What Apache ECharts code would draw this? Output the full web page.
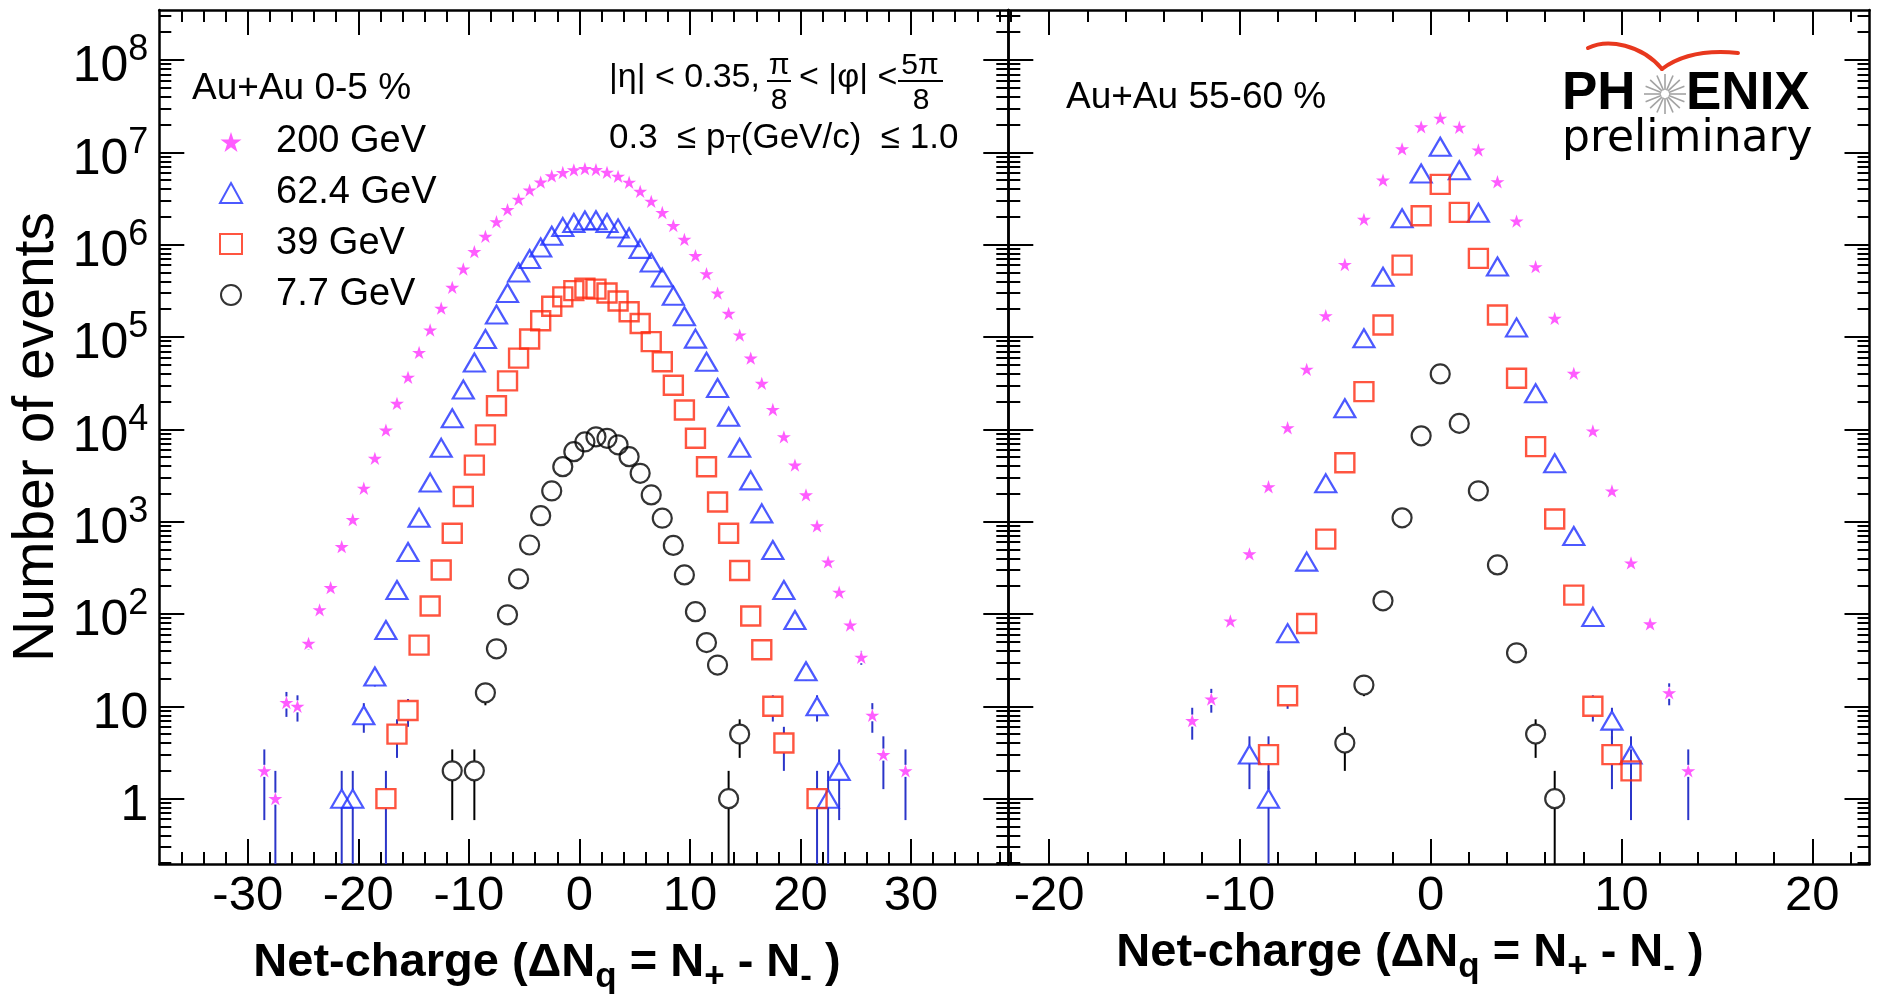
<!DOCTYPE html>
<html>
<head>
<meta charset="utf-8">
<title>Net-charge distributions, Au+Au</title>
<script src="https://cdn.jsdelivr.net/npm/echarts@6/dist/echarts.min.js"></script>
<style>
  html, body { margin: 0; padding: 0; background: #ffffff; overflow: hidden; }
  #chart { width: 1878px; height: 998px; }
</style>
</head>
<body>
<div id="chart"></div>
<script>
// ---- Net-charge histograms: bin centres and event counts ----

// Au+Au 0-5 % (left panel)
const binsCentral = [-28.5, -27.5, -26.5, -25.5, -24.5, -23.5, -22.5, -21.5, -20.5, -19.5,
  -18.5, -17.5, -16.5, -15.5, -14.5, -13.5, -12.5, -11.5, -10.5, -9.5,
  -8.5, -7.5, -6.5, -5.5, -4.5, -3.5, -2.5, -1.5, -0.5, 0.5,
  1.5, 2.5, 3.5, 4.5, 5.5, 6.5, 7.5, 8.5, 9.5, 10.5,
  11.5, 12.5, 13.5, 14.5, 15.5, 16.5, 17.5, 18.5, 19.5, 20.5,
  21.5, 22.5, 23.5, 24.5, 25.5, 26.5, 27.5, 28.5, 29.5];

const central200 = [2, 1, 11, 10, 48, 111, 193, 536, 1050, 2300,
  4850, 9800, 19100, 36600, 68000, 119000, 205000, 345000, 545000, 840000,
  1230000, 1770000, 2400000, 3100000, 3900000, 4750000, 5550000, 6050000, 6450000, 6650000,
  6500000, 6080000, 5500000, 4740000, 3780000, 2950000, 2230000, 1610000, 1140000, 760000,
  484000, 299000, 180000, 105000, 59000, 31500, 16400, 8300, 4100, 1950,
  900, 366, 172, 76, 34, 8, 3, null, 2];

const central62 = [null, null, null, null, null, null, null, 1, 1, 8,
  21, 67, 182, 470, 1100, 2650, 6300, 13200, 27000, 53000,
  95000, 175000, 300000, 500000, 700000, 930000, 1250000, 1550000, 1720000, 1830000,
  1840000, 1720000, 1500000, 1200000, 900000, 640000, 440000, 280000, 168000, 96000,
  54000, 28000, 13700, 6300, 2800, 1230, 493, 182, 86, 24,
  10, 1, 2, null, null, null, null, null, null];

const central39 = [null, null, null, null, null, null, null, null, null, null,
  null, 1, 5, 9, 46, 122, 300, 750, 1870, 4100,
  8700, 18000, 33500, 59000, 95000, 150000, 215000, 272000, 318000, 337000,
  330000, 300000, 245000, 188000, 140000, 89000, 54000, 30000, 16200, 8000,
  3940, 1630, 750, 296, 95, 41, 10, 4, null, null,
  1, null, null, null, null, null, null, null, null];

const central7 = [null, null, null, null, null, null, null, null, null, null,
  null, null, null, null, null, null, null, 2, null, 2,
  14, 42, 98, 240, 559, 1160, 2150, 3940, 5730, 7300,
  8300, 8000, 6800, 5060, 3340, 1950, 1090, 553, 265, 106,
  49, 28, 1, 5, null, null, null, null, null, null,
  null, null, null, null, null, null, null, null, null];

// Au+Au 55-60 % (right panel)
const binsPeripheral = [-12.5, -11.5, -10.5, -9.5, -8.5, -7.5, -6.5, -5.5, -4.5, -3.5,
  -2.5, -1.5, -0.5, 0.5, 1.5, 2.5, 3.5, 4.5, 5.5, 6.5,
  7.5, 8.5, 9.5, 10.5, 11.5, 12.5, 13.5];

const periph200 = [7, 12, 84, 447, 2390, 10400, 44700, 170000, 610000, 1880000,
  5000000, 10900000, 18900000, 23400000, 18700000, 10600000, 4800000, 1800000, 577000, 159000,
  40400, 9600, 2150, 357, 78, 14, 2];

const periph62 = [null, null, null, 3, 1, 62, 369, 2600, 16900, 97000,
  450000, 1930000, 5900000, 11500000, 6400000, 2220000, 580000, 127000, 24600, 4300,
  700, 93, 7, 3, null, null, null];

const periph39 = [null, null, null, null, 3, 13, 79, 647, 4350, 25600,
  135000, 600000, 2060000, 4500000, 2240000, 710000, 173000, 35700, 6500, 1070,
  160, 10, 3, 2, null, null, null];

const periph7 = [null, null, null, null, null, null, null, null, 4, 17,
  139, 1100, 8500, 39800, 11600, 2160, 340, 38, 5, 1,
  null, null, null, null, null, null, null];

// Beam energies (legend entries)
const energies = ['200 GeV', '62.4 GeV', '39 GeV', '7.7 GeV'];

// Axis tick values
const xMajorCentral = [-30, -20, -10, 0, 10, 20, 30];
const xMinorCentral = [-36, -34, -32, -28, -26, -24, -22, -18, -16, -14, -12, -8, -6, -4, -2,
  2, 4, 6, 8, 12, 14, 16, 18, 22, 24, 26, 28, 32, 34, 36, 38];
const xMajorPeripheral = [-20, -10, 0, 10, 20];
const xMinorPeripheral = [-22, -18, -16, -14, -12, -8, -6, -4, -2, 2, 4, 6, 8, 12, 14, 16, 18, 22];
const yMajor = [1, 10, 100, 1000, 10000, 100000, 1000000, 10000000, 100000000];

// x-axis title, split into normal text and subscripts
const xTitleParts = [
  ['Net-charge (ΔN', false], ['q', true], [' = N', false], ['+', true],
  [' - N', false], ['-', true], [' )', false]
];

// ---- Layout and style ----
const FONT = "'Liberation Sans', Arial, Helvetica, sans-serif";
const Y_MIN = 0.196, Y_MAX = 3.48e8;
const rangeCentral = [-38, 38.8];
const rangePeripheral = [-22.14, 23.0];

// minor ticks of the log axis at 2..9 x 10^k
const yMinor = [];
for (let k = -1; k <= 8; k++) {
  for (let m = 2; m <= 9; m++) {
    const v = m * Math.pow(10, k);
    if (v > Y_MIN && v < Y_MAX) yMinor.push(v);
  }
}

const STAR = 'path://M50 0 L61.2 34.5 L97.6 34.5 L68.2 55.9 L79.4 90.5 L50 69.1 L20.6 90.5 L31.8 55.9 L2.4 34.5 L38.8 34.5 Z';
const markerStyles = [
  { symbol: STAR, symbolSize: 14, itemStyle: { color: '#ff33ff', borderWidth: 0 }, gap: 6, bar: '#2b35c9' },
  { symbol: 'triangle', symbolSize: [21, 18], itemStyle: { color: 'rgba(255,255,255,0)', borderColor: '#1f2fff', borderWidth: 2.2 }, gap: 9, bar: '#2b35c9' },
  { symbol: 'rect', symbolSize: 19, itemStyle: { color: 'rgba(255,255,255,0)', borderColor: '#ff2a10', borderWidth: 2.4 }, gap: 10, bar: '#2b35c9' },
  { symbol: 'circle', symbolSize: 19, itemStyle: { color: 'rgba(255,255,255,0)', borderColor: '#000000', borderWidth: 2.2 }, gap: 10, bar: '#000000' }
];

const frameLine = { show: true, onZero: false, lineStyle: { color: '#000', width: 2.5 } };
const noLine = { show: false, onZero: false };
const tickLine = { color: '#000', width: 2 };

function pairs(bins, vals) {
  const out = [];
  bins.forEach((b, i) => { if (vals[i] != null) out.push([b, vals[i]]); });
  return out;
}

function xAxesFor(gridIndex, range, majors, minors) {
  const base = { type: 'value', gridIndex, min: range[0], max: range[1], splitLine: { show: false }, minorTick: { show: false } };
  return [
    Object.assign({}, base, {
      position: 'bottom', axisLine: frameLine,
      axisTick: { show: true, inside: true, length: 25, customValues: majors, lineStyle: tickLine },
      axisLabel: { show: true, customValues: majors, fontFamily: FONT, fontSize: 49, color: '#000', margin: 8 }
    }),
    Object.assign({}, base, {
      position: 'bottom', axisLine: noLine,
      axisTick: { show: true, inside: true, length: 12, customValues: minors, lineStyle: tickLine },
      axisLabel: { show: false }
    }),
    Object.assign({}, base, {
      position: 'top', axisLine: frameLine,
      axisTick: { show: true, inside: true, length: 25, customValues: majors, lineStyle: tickLine },
      axisLabel: { show: false }
    }),
    Object.assign({}, base, {
      position: 'top', axisLine: noLine,
      axisTick: { show: true, inside: true, length: 12, customValues: minors, lineStyle: tickLine },
      axisLabel: { show: false }
    })
  ];
}

function yAxesFor(gridIndex, withLabels) {
  const base = { type: 'log', logBase: 10, gridIndex, min: Y_MIN, max: Y_MAX, splitLine: { show: false }, minorTick: { show: false } };
  const major = Object.assign({}, base, {
    position: 'left', axisLine: frameLine,
    axisTick: { show: true, inside: true, length: 25, customValues: yMajor, lineStyle: tickLine },
    axisLabel: withLabels ? {
      show: true, customValues: yMajor, margin: 11, color: '#000',
      fontFamily: FONT, fontSize: 50, lineHeight: 70, padding: [15, 0, 0, 0],
      formatter: v => (v < 100 ? String(v) : '10{sup|' + Math.round(Math.log10(v)) + '}'),
      rich: { sup: { fontFamily: FONT, fontSize: 36, lineHeight: 36, verticalAlign: 'top', color: '#000' } }
    } : { show: false }
  });
  if (withLabels) {
    Object.assign(major, {
      name: 'Number of events', nameLocation: 'middle', nameGap: 94, nameRotate: 90,
      nameTextStyle: { fontFamily: FONT, fontSize: 57, color: '#000' }
    });
  }
  return [
    major,
    Object.assign({}, base, {
      position: 'left', axisLine: noLine,
      axisTick: { show: true, inside: true, length: 12, customValues: yMinor, lineStyle: tickLine },
      axisLabel: { show: false }
    }),
    Object.assign({}, base, {
      position: 'right', axisLine: frameLine,
      axisTick: { show: true, inside: true, length: 25, customValues: yMajor, lineStyle: tickLine },
      axisLabel: { show: false }
    }),
    Object.assign({}, base, {
      position: 'right', axisLine: noLine,
      axisTick: { show: true, inside: true, length: 12, customValues: yMinor, lineStyle: tickLine },
      axisLabel: { show: false }
    })
  ];
}

// Poisson (sqrt N) error bars, interrupted where the marker sits
function errorBars(bins, vals, style, axisIndex) {
  return {
    type: 'custom', xAxisIndex: axisIndex, yAxisIndex: axisIndex,
    silent: true, z: 2, clip: true,
    encode: { x: 0, y: 1 },
    data: pairs(bins, vals),
    renderItem(params, api) {
      const x = api.value(0), v = api.value(1);
      const err = Math.sqrt(v);
      const cs = params.coordSys;
      const c = api.coord([x, v]);
      const yTop = Math.max(api.coord([x, v + err])[1], cs.y);
      const lowVal = v - err;
      const yBottom = lowVal > 0 ? Math.min(api.coord([x, lowVal])[1], cs.y + cs.height) : cs.y + cs.height;
      const lineStyle = { stroke: style.bar, lineWidth: 2 };
      const children = [];
      if (yTop < c[1] - style.gap) {
        children.push({ type: 'line', shape: { x1: c[0], y1: yTop, x2: c[0], y2: c[1] - style.gap }, style: lineStyle });
      }
      if (yBottom > c[1] + style.gap) {
        children.push({ type: 'line', shape: { x1: c[0], y1: c[1] + style.gap, x2: c[0], y2: yBottom }, style: lineStyle });
      }
      return { type: 'group', children };
    }
  };
}

function markers(name, bins, vals, style, axisIndex) {
  return {
    type: 'scatter', name, xAxisIndex: axisIndex, yAxisIndex: axisIndex,
    silent: true, z: 3, symbolKeepAspect: true,
    symbol: style.symbol, symbolSize: style.symbolSize, itemStyle: style.itemStyle,
    emphasis: { disabled: true },
    data: pairs(bins, vals)
  };
}

const panels = [
  { bins: binsCentral, sets: [central200, central62, central39, central7], axisIndex: 0 },
  { bins: binsPeripheral, sets: [periph200, periph62, periph39, periph7], axisIndex: 4 }
];

const series = [];
panels.forEach(p => {
  p.sets.forEach((vals, s) => {
    series.push(errorBars(p.bins, vals, markerStyles[s], p.axisIndex));
  });
  p.sets.forEach((vals, s) => {
    series.push(markers(energies[s], p.bins, vals, markerStyles[s], p.axisIndex));
  });
});

// PHENIX logo starburst
const burst = [];
for (let i = 0; i < 16; i++) {
  const a = i * Math.PI / 8;
  burst.push({
    type: 'line', silent: true,
    shape: { x1: 1665 + 4 * Math.cos(a), y1: 94 + 4 * Math.sin(a), x2: 1665 + 21 * Math.cos(a), y2: 94 + 20 * Math.sin(a) },
    style: { stroke: '#a3a3a3', lineWidth: 1.6 }
  });
}

function label(text, x, y, size, extra) {
  return {
    type: 'text', x, y, silent: true,
    style: Object.assign({ text, fontFamily: FONT, fontSize: size, fill: '#000', align: 'left', verticalAlign: 'middle' }, extra || {})
  };
}

// lay out the x-axis title piece by piece, centred on cx
const measureCtx = document.createElement('canvas').getContext('2d');
function textWidth(str, size) {
  measureCtx.font = 'bold ' + size + 'px ' + FONT;
  return measureCtx.measureText(str).width;
}
function xTitle(cx, cy) {
  const MAIN = 47, SUB = 35;
  const widths = xTitleParts.map(([t, sub]) => textWidth(t, sub ? SUB : MAIN));
  const total = widths.reduce((a, b) => a + b, 0);
  let x = cx - total / 2;
  return xTitleParts.map(([t, sub], i) => {
    const el = label(t, x, sub ? cy + 14 : cy, sub ? SUB : MAIN, { fontWeight: 'bold' });
    x += widths[i];
    return el;
  });
}

const swooshStyle = { fill: 'none', stroke: '#e8381e', lineWidth: 4, lineCap: 'round' };

const graphics = [
  label('Au+Au 0-5 %', 192, 89, 37),
  // |eta| and phi acceptance with fractions
  label('|η| < 0.35,', 609, 78, 34),
  label('π', 779, 66, 30, { align: 'center' }),
  { type: 'line', silent: true, shape: { x1: 767, y1: 81, x2: 791, y2: 81 }, style: { stroke: '#000', lineWidth: 2 } },
  label('8', 779, 101, 30, { align: 'center' }),
  label('< |φ| <', 799, 78, 34),
  label('5π', 920, 66, 30, { align: 'center' }),
  { type: 'line', silent: true, shape: { x1: 898, y1: 81, x2: 943, y2: 81 }, style: { stroke: '#000', lineWidth: 2 } },
  label('8', 921, 101, 30, { align: 'center' }),
  label('0.3  ≤ p{t|T}(GeV/c)  ≤ 1.0', 609, 138, 35, {
    rich: { t: { fontFamily: FONT, fontSize: 25, lineHeight: 20, verticalAlign: 'bottom' } },
    lineHeight: 42
  }),
  label('Au+Au 55-60 %', 1066, 98, 37),
  // PHENIX preliminary
  label('PH', 1562, 94, 53, { fontWeight: 'bold' }),
  label('ENIX', 1686, 94, 53, { fontWeight: 'bold' }),
  label('preliminary', 1562, 140, 44, { fontFamily: "'DejaVu Sans', sans-serif" }),
  {
    type: 'bezierCurve', silent: true,
    shape: { x1: 1588, y1: 48, cpx1: 1608, cpy1: 38, cpx2: 1642, cpy2: 45, x2: 1662, y2: 69 },
    style: swooshStyle
  },
  {
    type: 'bezierCurve', silent: true,
    shape: { x1: 1662, y1: 69, cpx1: 1682, cpy1: 54, cpx2: 1708, cpy2: 50, x2: 1738, y2: 53 },
    style: swooshStyle
  }
].concat(burst, xTitle(547, 963), xTitle(1410, 953));

const option = {
  animation: false,
  backgroundColor: '#ffffff',
  textStyle: { fontFamily: FONT, color: '#000' },
  grid: [
    { left: 159.3, top: 10, width: 849, height: 854, containLabel: false, outerBoundsMode: 'none' },
    { left: 1008.3, top: 10, width: 861.2, height: 854, containLabel: false, outerBoundsMode: 'none' }
  ],
  xAxis: []
    .concat(xAxesFor(0, rangeCentral, xMajorCentral, xMinorCentral))
    .concat(xAxesFor(1, rangePeripheral, xMajorPeripheral, xMinorPeripheral)),
  yAxis: [].concat(yAxesFor(0, true)).concat(yAxesFor(1, false)),
  legend: {
    data: energies,
    orient: 'vertical',
    left: 219, top: 120,
    padding: 0,
    itemWidth: 22, itemHeight: 20, itemGap: 7,
    selectedMode: false,
    symbolKeepAspect: true,
    formatter: name => '{pad| }' + name,
    textStyle: { fontFamily: FONT, fontSize: 38, lineHeight: 44, color: '#000', rich: { pad: { width: 29 } } }
  },
  graphic: { elements: graphics },
  series
};

const chart = echarts.init(document.getElementById('chart'), null, { renderer: 'canvas' });
chart.setOption(option);
</script>
</body>
</html>
